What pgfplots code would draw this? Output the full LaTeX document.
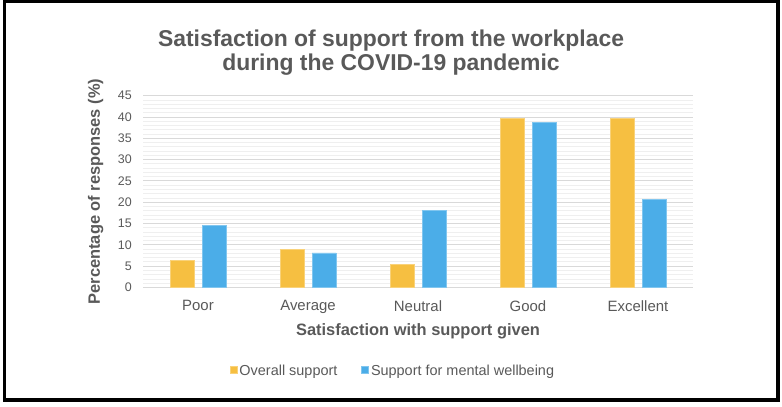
\documentclass[border=0pt]{standalone}
\usepackage{fontspec}
\setmainfont{Liberation Sans}
\usepackage{pgfplots}
\pgfplotsset{compat=1.18}
\definecolor{txtgray}{HTML}{595959}
\definecolor{orangebar}{HTML}{F6BF41}
\definecolor{bluebar}{HTML}{4BADE8}
\definecolor{majgrid}{HTML}{D9D9D9}
\definecolor{mingrid}{HTML}{EFEFEF}
\begin{document}
\begin{tikzpicture}[x=1bp,y=1bp]
\useasboundingbox (0,0) rectangle (782,406);
\draw[line width=3.5bp] (4.5,6) rectangle (778,404.3);
\begin{axis}[
  at={(143bp,118.5bp)}, anchor=south west,
  scale only axis, width=550bp, height=191.8bp,
  ymin=0, ymax=45, xmin=-0.5, xmax=4.5,
  ybar=8bp, bar width=24bp,
  xtick={0,1,2,3,4}, xticklabels={Poor,Average,Neutral,Good,Excellent},
  ytick={0,5,...,45}, minor y tick num=4,
  ymajorgrids, yminorgrids,
  major grid style={majgrid, line width=0.9bp},
  minor grid style={mingrid, line width=0.9bp},
  axis line style={draw=none},
  major tick length=0pt, minor tick length=0pt,
  /pgf/number format/assume math mode=true,
  yticklabel style={font=\fontsize{12.5}{14}\selectfont, text=txtgray, anchor=east, inner sep=0pt, xshift=-11bp},
  xticklabel style={font=\fontsize{15}{17}\selectfont, text=txtgray, anchor=north, inner sep=0pt, yshift=-12.5bp},
  title={Satisfaction of support from the workplace\\during the COVID-19 pandemic},
  title style={align=center, at={(axis description cs:0.4509,1.312)}, anchor=north, inner sep=0pt,
    font=\fontsize{23}{24}\selectfont\bfseries, text=txtgray},
  xlabel={Satisfaction with support given},
  ylabel={Percentage of responses (\%)},
  every axis x label/.style={at={(axis description cs:0.5,-0.2477)}, anchor=base, inner sep=0pt,
    font=\fontsize{16.5}{18}\selectfont\bfseries, text=txtgray},
  every axis y label/.style={at={(axis description cs:-0.0782,0.5)}, rotate=90, anchor=base, inner sep=0pt,
    font=\fontsize{16.5}{18}\selectfont\bfseries, text=txtgray},
  legend image code/.code={\fill[#1] (0bp,-2bp) rectangle (7bp,5bp);},
  legend style={at={(axis description cs:0.4545,-0.438)}, anchor=center, draw=none, fill=none,
    legend columns=2, font=\fontsize{14.5}{17}\selectfont, text=txtgray,
    /tikz/every even column/.append style={column sep=22bp}},
  legend cell align=left,
]
\addplot[fill=orangebar, draw=orangebar!70!white, line width=0.6bp] coordinates {(0,6.4) (1,9.0) (2,5.4) (3,39.7) (4,39.7)};
\addplot[fill=bluebar, draw=bluebar!70!white, line width=0.6bp] coordinates {(0,14.5) (1,8.1) (2,18.0) (3,38.8) (4,20.7)};
\legend{Overall support, Support for mental wellbeing}
\end{axis}
\end{tikzpicture}
\end{document}
